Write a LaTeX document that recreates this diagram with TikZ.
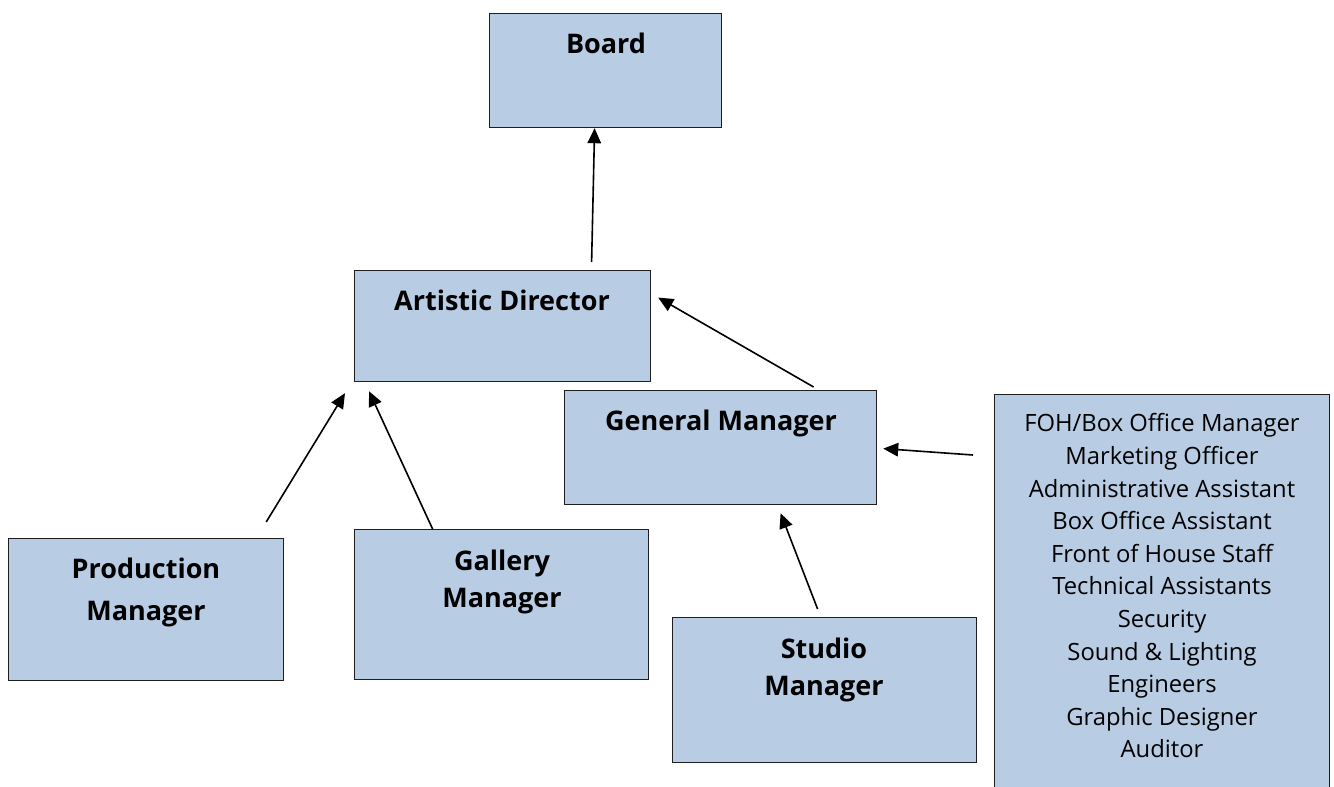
\documentclass[tikz,border=0pt]{standalone}
\usepackage{fontspec}
\setmainfont{Open Sans}
\usetikzlibrary{arrows.meta}
\definecolor{boxfill}{RGB}{184,204,228}
\definecolor{boxline}{RGB}{30,30,30}
\begin{document}
\begin{tikzpicture}[x=1pt,y=-1pt,
  box/.style={draw=boxline, line width=1.2pt, fill=boxfill, inner sep=0pt, anchor=north west},
  boldtxt/.style={font=\fontsize{27}{37}\selectfont\bfseries, align=center, inner sep=0pt},
  listtxt/.style={font=\fontsize{23.8}{32.6}\selectfont, align=center, inner sep=0pt},
  link/.style={line width=1.6pt, -{Triangle[length=15pt,width=13.5pt]}}]
\useasboundingbox (0,0) rectangle (1334,787);
\clip (0,0) rectangle (1334,787);

% boxes
\node[box, minimum width=232pt, minimum height=114pt] (board)  at (489,13)  {};
\node[box, minimum width=296pt, minimum height=111pt] (ad)     at (354,270) {};
\node[box, minimum width=312pt, minimum height=114pt] (gm)     at (564,390) {};
\node[box, minimum width=275pt, minimum height=142pt] (prod)   at (8,538)   {};
\node[box, minimum width=294pt, minimum height=150pt] (gal)    at (354,529) {};
\node[box, minimum width=304pt, minimum height=145pt] (studio) at (672,617) {};
\node[box, minimum width=335pt, minimum height=420pt] (staff)  at (994,394) {};

% labels
\node[boldtxt] (boardt)  at (606,43)  {Board};
\node[boldtxt] (adt)     at (502,300) {Artistic Director};
\node[boldtxt] (gmt)     at (721,423) {General Manager};
\node[boldtxt, font=\fontsize{27}{42}\selectfont\bfseries] (prodt) at (146,592) {Production\\Manager};
\node[boldtxt] (galt)    at (502,582) {Gallery\\Manager};
\node[boldtxt] (studiot) at (824,670) {Studio\\Manager};
\node[listtxt] (stafft)  at (1162,586) {FOH/Box Office Manager\\Marketing Officer\\Administrative Assistant\\Box Office Assistant\\Front of House Staff\\Technical Assistants\\Security\\Sound \& Lighting\\Engineers\\Graphic Designer\\Auditor};

% reporting lines
\draw[link] ([xshift=89pt,yshift=8pt]ad.north) -- ([xshift=-11pt]board.south);
\draw[link] ([xshift=93pt,yshift=3pt]gm.north) -- ([xshift=7pt,yshift=28.5pt]ad.east);
\draw[link] ([xshift=-18pt,yshift=16pt]prod.north east) -- ([xshift=-9pt,yshift=-11pt]ad.south west);
\draw[link] ([xshift=-69pt]gal.north) -- ([xshift=15pt,yshift=-9pt]ad.south west);
\draw[link] ([xshift=-7pt,yshift=8pt]studio.north) -- ([xshift=60pt,yshift=-8pt]gm.south);
\draw[link] ([xshift=-21pt,yshift=-61pt]staff.north west) -- ([xshift=6pt,yshift=-1pt]gm.east);
\end{tikzpicture}
\end{document}
